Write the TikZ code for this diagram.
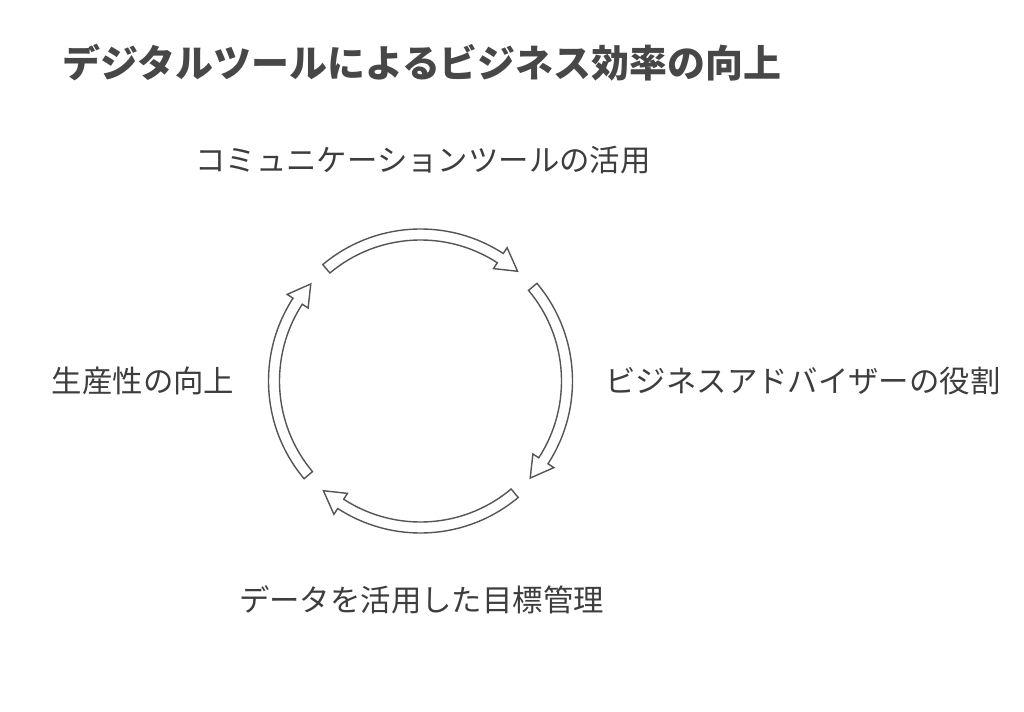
\documentclass[tikz,border=0pt]{standalone}
\usepackage{fontspec}
\newfontfamily\cjk{Noto Sans CJK JP}
\usetikzlibrary{positioning}

\definecolor{inkgray}{HTML}{3D3D3D}
\definecolor{headgray}{HTML}{474747}
\definecolor{linegray}{HTML}{555555}

\tikzset{
  label/.style={text=inkgray, font=\cjk\fontsize{17.3}{20}\selectfont, inner sep=0pt},
  heading/.style={text=headgray, font=\cjk\bfseries\fontsize{21.6}{25}\selectfont, inner sep=0pt},
  cyclearrow/.style={draw=linegray, fill=white, line width=0.8pt, line join=miter}
}

\begin{document}
\begin{tikzpicture}[x=0.02cm, y=0.02cm]
            \useasboundingbox (0,0) rectangle (1024,711);

            \node[heading, anchor=west] (title) at (62,648)
            {デジタルツールによるビジネス効率の向上};

            \coordinate (hub) at (420.5,330);

            \node[label] (tools) at (423,551) {コミュニケーションツールの活用};
            \node[label] (advisor) at (803,330) {ビジネスアドバイザーの役割};
            \node[label] (goals) at (421.5,111) {データを活用した目標管理};
            \node[label] (prod) at (143,330) {生産性の向上};

            % four curved block arrows round the hub
            \begin{scope}[shift={(hub)}]
            \foreach \a in {130,40,-50,-140} {
              \pgfmathsetmacro{\b}{\a-73}
              \pgfmathsetmacro{\t}{\a-81.5}
              \draw[cyclearrow] (\a:152) arc[start angle=\a, end angle=\b, radius=152]
                -- (\b:159) -- (\t:146.5) -- (\b:134) -- (\b:141)
                arc[start angle=\b, end angle=\a, radius=141] -- cycle;
            }
            \end{scope}

        \end{tikzpicture}
\end{document}
